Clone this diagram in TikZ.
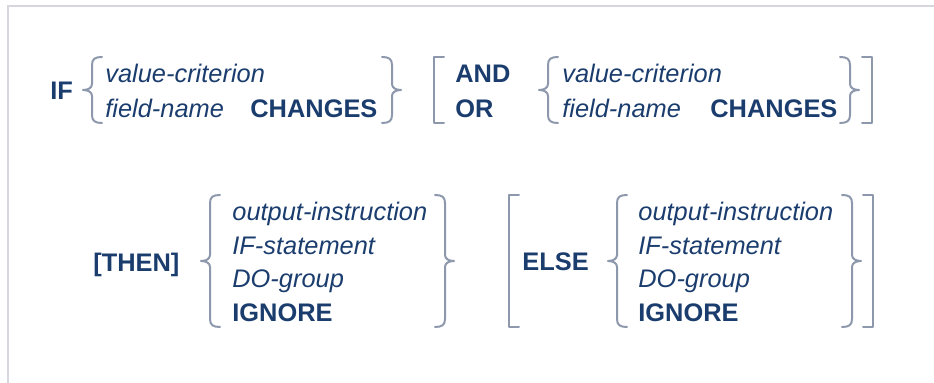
\documentclass[tikz,border=0pt]{standalone}
\usepackage{fontspec}
\setmainfont{Liberation Sans}
\usepackage{xcolor}
\usepackage{tikz}
\usetikzlibrary{positioning}
\definecolor{syntaxblue}{HTML}{1B3D6E}
\definecolor{bracegray}{HTML}{8E98AC}
\definecolor{framegray}{HTML}{D6D6DE}
\tikzset{
keyword/.style = {anchor = base west, inner sep = 0pt, text = syntaxblue, font = \fontsize{12.7}{15}\selectfont\bfseries},
operand/.style = {anchor = base west, inner sep = 0pt, text = syntaxblue, font = \fontsize{12.7}{15}\selectfont\itshape},
delim/.style = {draw = bracegray, line width = 1pt, line cap = round, line join = round},
}
\tikzset{
pics/open brace/.style = {
        code = {
        \path[delim] (20, -#1/2) .. controls (13, -#1/2) and (10, -#1/2+2) .. (10, -#1/2+8) -- (10, -6) .. controls (10, -2) and (6, 0) .. (1, 0) .. controls (6, 0) and (10, 2) .. (10, 6) -- (10, #1/2-8) .. controls (10, #1/2-2) and (13, #1/2) .. (20, #1/2);
        }
    },
pics/close brace/.style = {
        code = {
        \path[delim] (0, -#1/2) .. controls (7, -#1/2) and (10, -#1/2+2) .. (10, -#1/2+8) -- (10, -6) .. controls (10, -2) and (14, 0) .. (19, 0) .. controls (14, 0) and (10, 2) .. (10, 6) -- (10, #1/2-8) .. controls (10, #1/2-2) and (7, #1/2) .. (0, #1/2);
        }
    },
pics/open bracket/.style = {
        code = {
        \path[delim] (11, -#1/2) -- (1, -#1/2) -- (1, #1/2) -- (11, #1/2);
        }
    },
pics/close bracket/.style = {
        code = {
        \path[delim] (0, -#1/2) -- (10, -#1/2) -- (10, #1/2) -- (0, #1/2);
        }
    }
}

\begin{document}
\begin{tikzpicture}[x = 0.5pt, y = -0.5pt]
      \useasboundingbox (0, 0) rectangle (934, 383);
      \draw[framegray, line width = 1pt] (8, 383) -- (8, 6) -- (934, 6);
      % first line
      \node[keyword] (if) at (50, 100) {IF};
      \draw (82, 90) pic{open brace = 66};
      \node[operand] (crit1) at (105, 83) {value-criterion};
      \node[operand] (field1) at (105, 118) {field-name};
      \node[keyword] (changes1) at (250, 118) {CHANGES};
      \draw (382, 90) pic{close brace = 66};
      \draw (433, 90) pic{open bracket = 66};
      \node[keyword] (and) at (455, 83) {AND};
      \node[keyword] (or) at (455, 118) {OR};
      \draw (538, 90) pic{open brace = 66};
      \node[operand] (crit2) at (562, 83) {value-criterion};
      \node[operand] (field2) at (562, 118) {field-name};
      \node[keyword] (changes2) at (710, 118) {CHANGES};
      \draw (840, 90) pic{close brace = 66};
      \draw (862, 90) pic{close bracket = 66};
      % second line
      \node[keyword] (then) at (93, 272) {[THEN]};
      \draw (200, 261) pic{open brace = 132};
      \node[operand] (output1) at (232, 221) {output-instruction};
      \node[operand] (ifstmt1) at (232, 254.5) {IF-statement};
      \node[operand] (dogroup1) at (232, 288) {DO-group};
      \node[keyword] (ignore1) at (232, 321.5) {IGNORE};
      \draw (435, 261) pic{close brace = 132};
      \draw (508, 261) pic{open bracket = 132};
      \node[keyword] (else) at (522, 271) {ELSE};
      \draw (607, 261) pic{open brace = 132};
      \node[operand] (output2) at (638, 221) {output-instruction};
      \node[operand] (ifstmt2) at (638, 254.5) {IF-statement};
      \node[operand] (dogroup2) at (638, 288) {DO-group};
      \node[keyword] (ignore2) at (638, 321.5) {IGNORE};
      \draw (842, 261) pic{close brace = 132};
      \draw (863, 261) pic{close bracket = 132};
    \end{tikzpicture}
\end{document}
